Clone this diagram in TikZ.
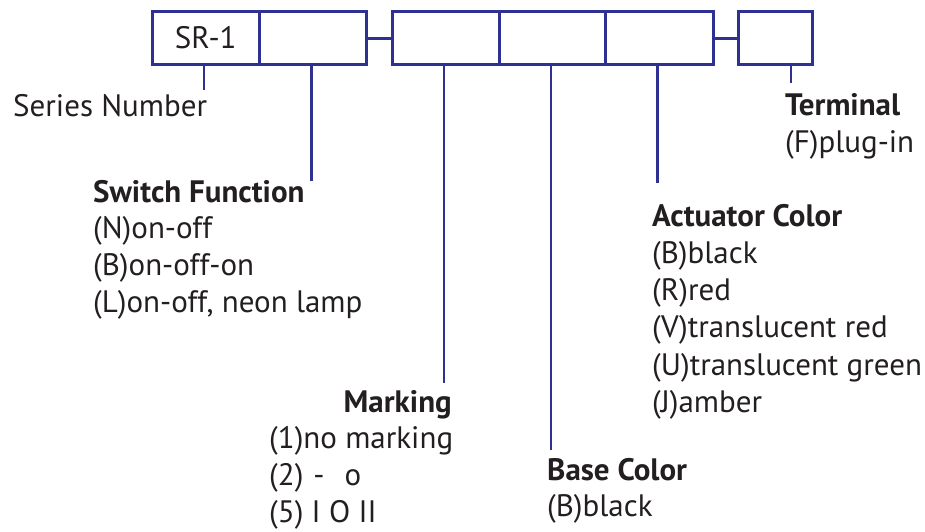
\documentclass[tikz,border=0pt]{standalone}
\usepackage{fontspec}
\setmainfont{PT Sans}
\definecolor{boxblue}{HTML}{2E3192}
\definecolor{txt}{HTML}{231F20}
\begin{document}
\begin{tikzpicture}[x=1pt,y=-1pt,
  box/.style={draw=boxblue, line width=3pt, minimum height=53pt, inner sep=0pt,
    anchor=north west, text=txt, font=\fontsize{31}{37}\selectfont},
  conn/.style={draw=boxblue, line width=3pt},
  lead/.style={draw=boxblue, line width=2.8pt},
  lbl/.style={anchor=base west, inner sep=0pt, text=txt, font=\fontsize{31}{37}\selectfont},
  hdr/.style={lbl, font=\fontsize{31}{37}\selectfont\bfseries}]
\useasboundingbox (0,0) rectangle (925,531);
% boxes
\node[box, minimum width=107pt]   (b1) at (150.7,10) {SR-1};
\node[box, minimum width=107.3pt] (b2) at (257.7,10) {};
\node[box, minimum width=107.3pt] (b3) at (390.7,10) {};
\node[box, minimum width=106.3pt] (b4) at (498,10) {};
\node[box, minimum width=107.7pt] (b5) at (604.3,10) {};
\node[box, minimum width=73.7pt]  (b6) at (737.3,10) {};
\draw[conn] (b2.east) -- (b3.west);
\draw[conn] (b5.east) -- (b6.west);
% leader ends
\coordinate (e1) at (204,90);
\coordinate (e2) at (311.5,181);
\coordinate (e3) at (444,383);
\coordinate (e4) at (551,450);
\coordinate (e5) at (657.8,183);
\coordinate (e6) at (791,83);
\draw[lead] (b1.south -| e1) -- (e1);
\draw[lead] (b2.south -| e2) -- (e2);
\draw[lead] (b3.south -| e3) -- (e3);
\draw[lead] (b4.south -| e4) -- (e4);
\draw[lead] (b5.south -| e5) -- (e5);
\draw[lead] (b6.south -| e6) -- (e6);
% labels
\node[lbl] (sn) at (13,116) {Series Number};
\node[hdr] (sf) at (93,202) {Switch Function};
\node[lbl] (sf1) at (93,238.7) {(N)on-off};
\node[lbl] (sf2) at (93,275.4) {(B)on-off-on};
\node[lbl] (sf3) at (93,312.1) {(L)on-off, neon lamp};
\node[hdr, anchor=base east] (mk) at (452,412) {Marking};
\node[lbl] (mk1) at (269,448.7) {(1)no marking};
\node[lbl] (mk2) at (269,485.4) {(2)\hspace{10pt}-\hspace{20pt}o};
\node[lbl] (mk3) at (269,522.1) {(5) I O II};
\node[hdr] (bc) at (547,480) {Base Color};
\node[lbl] (bc1) at (547,516.7) {(B)black};
\node[hdr] (ac) at (652,226) {Actuator Color};
\node[lbl] (ac1) at (652,263.3) {(B)black};
\node[lbl] (ac2) at (652,300.6) {(R)red};
\node[lbl] (ac3) at (652,337.9) {(V)translucent red};
\node[lbl] (ac4) at (652,375.2) {(U)translucent green};
\node[lbl] (ac5) at (652,412.5) {(J)amber};
\node[hdr] (tm) at (785,115) {Terminal};
\node[lbl] (tm1) at (785,152) {(F)plug-in};
\end{tikzpicture}
\end{document}
